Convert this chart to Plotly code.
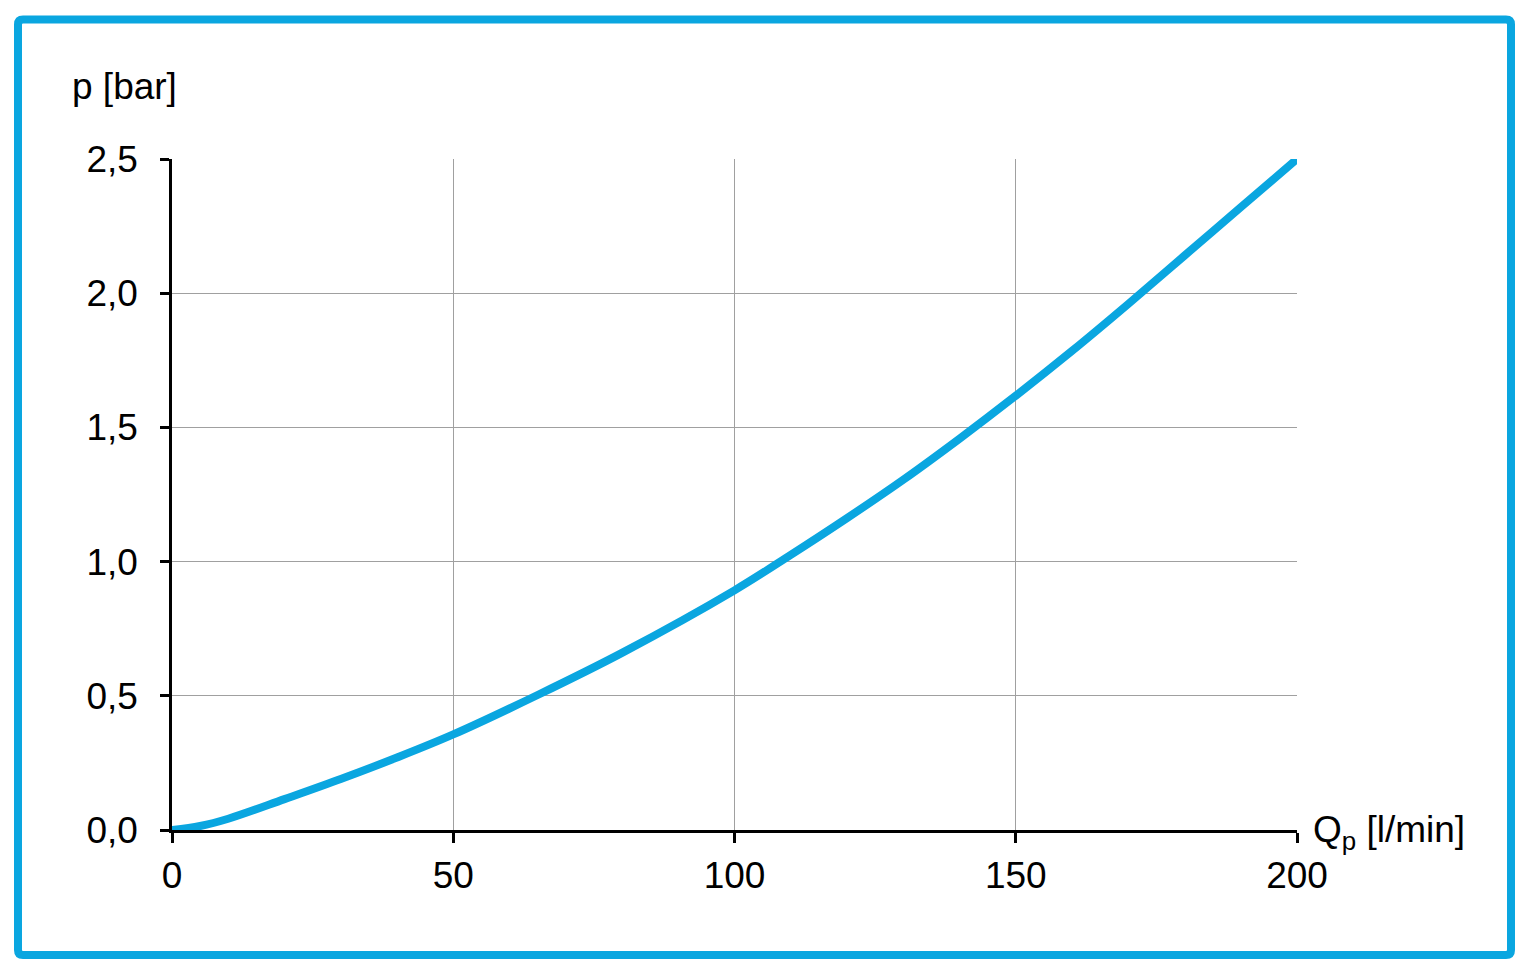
import plotly.graph_objects as go

# Data
flow_lpm = [0, 5, 10, 20, 30, 40, 50, 65, 80, 100, 110, 120, 130, 140, 150, 160, 170, 180, 190, 200]
pressure_bar = [0, 0.015, 0.042, 0.115, 0.19, 0.27, 0.356, 0.503, 0.66, 0.893, 1.025, 1.162, 1.305, 1.458, 1.618, 1.785, 1.96, 2.14, 2.32, 2.5]
x_ticks = [0, 50, 100, 150, 200]
y_ticks = [0, 0.5, 1.0, 1.5, 2.0, 2.5]

W, H = 1533, 977
BLUE = "#0aa6e0"
FONT = "Liberation Sans, Arial, sans-serif"
FS = 37

x0, x1 = 172, 1297
y0, y1 = 830, 159

fig = go.Figure()
fig.add_trace(go.Scatter(
    x=flow_lpm, y=pressure_bar, mode="lines",
    line=dict(color=BLUE, width=8, shape="spline", smoothing=1.0),
    hoverinfo="skip", showlegend=False,
))

fig.update_layout(
    template="none",
    width=W, height=H, autosize=False,
    margin=dict(l=0, r=0, t=0, b=0, pad=0),
    paper_bgcolor="white", plot_bgcolor="white",
    separators=",.",
    font=dict(family=FONT, size=FS, color="black"),
    xaxis=dict(
        domain=[x0 / W, x1 / W], range=[0, 200], automargin=False,
        tickvals=x_ticks, ticktext=[str(v) for v in x_ticks],
        showgrid=True, gridcolor="#a0a0a0", gridwidth=1,
        zeroline=False, showline=True, linecolor="black", linewidth=3,
        ticks="outside", ticklen=10, tickwidth=2.5, tickcolor="black",
        ticklabelstandoff=1,
        tickfont=dict(family=FONT, size=FS, color="black"),
    ),
    yaxis=dict(
        domain=[(H - y0) / H, (H - y1) / H], range=[0, 2.5], automargin=False,
        tickvals=y_ticks, tickformat=".1f",
        showgrid=True, gridcolor="#a0a0a0", gridwidth=1,
        zeroline=False, showline=True, linecolor="black", linewidth=2.5,
        ticks="outside", ticklen=9, tickwidth=2.5, tickcolor="black",
        ticklabelstandoff=15,
        tickfont=dict(family=FONT, size=FS, color="black"),
    ),
)

fig.add_annotation(
    text="p [bar]", xref="paper", yref="paper",
    x=70 / W, y=(H - 86) / H, xanchor="left", yanchor="middle",
    showarrow=False, font=dict(family=FONT, size=FS, color="black"),
)
fig.add_annotation(
    text="Q<sub>p</sub> [l/min]", xref="paper", yref="paper",
    x=1311 / W, y=(H - 832) / H, xanchor="left", yanchor="middle",
    showarrow=False, font=dict(family=FONT, size=FS, color="black"),
)

# rounded blue frame
L, T, R, B, r = 18, 19.5, 1511, 955, 5
def px(x): return x / W
def py(y): return (H - y) / H
path = (f"M {px(L + r)},{py(T)} L {px(R - r)},{py(T)} Q {px(R)},{py(T)} {px(R)},{py(T + r)} "
        f"L {px(R)},{py(B - r)} Q {px(R)},{py(B)} {px(R - r)},{py(B)} "
        f"L {px(L + r)},{py(B)} Q {px(L)},{py(B)} {px(L)},{py(B - r)} "
        f"L {px(L)},{py(T + r)} Q {px(L)},{py(T)} {px(L + r)},{py(T)} Z")
fig.add_shape(type="path", path=path, xref="paper", yref="paper",
              line=dict(color=BLUE, width=8), fillcolor="rgba(0,0,0,0)")

fig.write_html(
    "out.html",
    config={"displayModeBar": False},
    post_script="document.body.style.margin='0';document.body.style.overflow='hidden';",
)
